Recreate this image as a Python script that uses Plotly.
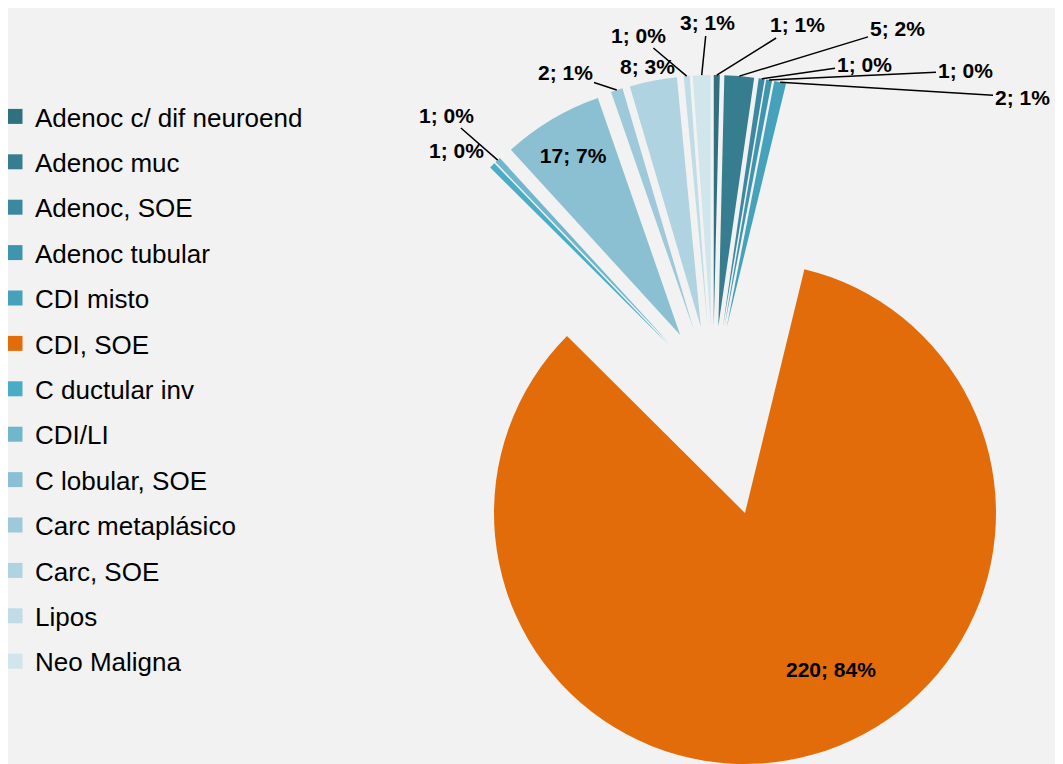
import math
import plotly.graph_objects as go

# dados
tipos = ["Adenoc c/ dif neuroend", "Adenoc muc", "Adenoc, SOE", "Adenoc tubular",
         "CDI misto", "CDI, SOE", "C ductular inv", "CDI/LI", "C lobular, SOE",
         "Carc metaplásico", "Carc, SOE", "Lipos", "Neo Maligna"]
casos = [1, 5, 1, 1, 2, 220, 1, 1, 17, 2, 8, 1, 3]
pct = [1, 2, 0, 0, 1, 84, 0, 0, 7, 1, 3, 0, 1]
cores = ["#31707F", "#367D8F", "#3B89A0", "#4095AE", "#46A1BA", "#E36C0A",
         "#4BACC6", "#70B7CE", "#8BC0D3", "#9EC9DA", "#AFD3E0", "#C0DCE6", "#D0E5EC"]

W, H = 1063, 764
OFF = 8  # margem do body da página
R = 251
PULL = 0.255
CA = (745, 513)   # centro da fatia maior (px)
CB = (713, 390)   # centro das fatias explodidas (px)
destaque = "CDI, SOE"
transp = "rgba(0,0,0,0)"

# posição dos rótulos (px) e se têm linha de chamada
pos_rot = {
    "Adenoc c/ dif neuroend": (797, 25, True),
    "Adenoc muc": (897, 28, True),
    "Adenoc, SOE": (864, 64, True),
    "Adenoc tubular": (965, 71, True),
    "CDI misto": (1022, 97, True),
    "C ductular inv": (456, 151, False),
    "CDI/LI": (446, 115, True),
    "Carc metaplásico": (565, 73, True),
    "Carc, SOE": (647, 67, False),
    "Lipos": (638, 35, True),
    "Neo Maligna": (707, 23, True),
    "CDI, SOE": (831, 669, False),
}

rotulos = [f"{v}; {p}%" for v, p in zip(casos, pct)]
total = sum(casos)


def dominio(c, half):
    cx, cy = c[0] - OFF, c[1] - OFF
    return dict(x=[(cx - half) / W, (cx + half) / W],
                y=[(H - cy - half) / H, (H - cy + half) / H])


def px(x, y):
    return (x - OFF) / W, 1 - (y - OFF) / H


fonte_rot = dict(family="Liberation Sans, Arial", size=21, color="black", weight="bold")

fig = go.Figure()

# fatia maior (sem explosão)
fig.add_trace(go.Pie(
    labels=tipos, values=casos, sort=False, direction="clockwise", rotation=0,
    marker=dict(colors=[c if t == destaque else transp for t, c in zip(tipos, cores)],
                line=dict(width=0)),
    textinfo="none",
    domain=dominio(CA, R),
    showlegend=False, hoverinfo="label+value+percent",
))

# fatias pequenas (explodidas)
fig.add_trace(go.Pie(
    labels=tipos, values=casos, sort=False, direction="clockwise", rotation=0,
    pull=[0 if t == destaque else PULL for t in tipos],
    marker=dict(colors=[transp if t == destaque else c for t, c in zip(tipos, cores)],
                line=dict(width=0)),
    text=[r if t == "C lobular, SOE" else "" for t, r in zip(tipos, rotulos)],
    textinfo="text",
    textposition=["inside" if t == "C lobular, SOE" else "none" for t in tipos],
    insidetextorientation="horizontal",
    insidetextfont=fonte_rot,
    domain=dominio(CB, R * (1 + PULL)),
    showlegend=False, hoverinfo="label+value+percent",
))

# rótulos com linhas de chamada
acum = 0
for t, v, rot in zip(tipos, casos, rotulos):
    meio = (acum + v / 2) / total * 2 * math.pi
    acum += v
    if t not in pos_rot:
        continue
    tx, ty, linha = pos_rot[t]
    if linha:
        dist = R * (1 + PULL)
        bx = CB[0] + dist * math.sin(meio)
        by = CB[1] - dist * math.cos(meio)
        x, y = px(bx, by)
        fig.add_annotation(x=x, y=y, xref="paper", yref="paper", text=rot,
                           showarrow=True, arrowhead=0, arrowwidth=1.5,
                           arrowcolor="black", standoff=0,
                           ax=tx - bx, ay=ty - by, font=fonte_rot)
    else:
        x, y = px(tx, ty)
        fig.add_annotation(x=x, y=y, xref="paper", yref="paper", text=rot,
                           xanchor="center", yanchor="middle",
                           showarrow=False, font=fonte_rot)

# legenda
for t, c in zip(tipos, cores):
    fig.add_trace(go.Scatter(
        x=[None], y=[None], mode="markers", name=t, legendgroup=t,
        marker=dict(symbol="square", size=15, color=c),
    ))

fig.update_layout(
    width=W, height=H,
    margin=dict(l=0, r=0, t=0, b=0, autoexpand=False),
    paper_bgcolor="#F2F2F2", plot_bgcolor="#F2F2F2",
    xaxis=dict(visible=False), yaxis=dict(visible=False),
    showlegend=True,
    legend=dict(x=-13 / W, y=1 - (93 - OFF) / H, xanchor="left", yanchor="top",
                font=dict(family="Liberation Sans, Arial", size=26, color="black"),
                traceorder="grouped", tracegroupgap=8.6,
                bgcolor="rgba(0,0,0,0)"),
)

fig.write_html("out.html")
